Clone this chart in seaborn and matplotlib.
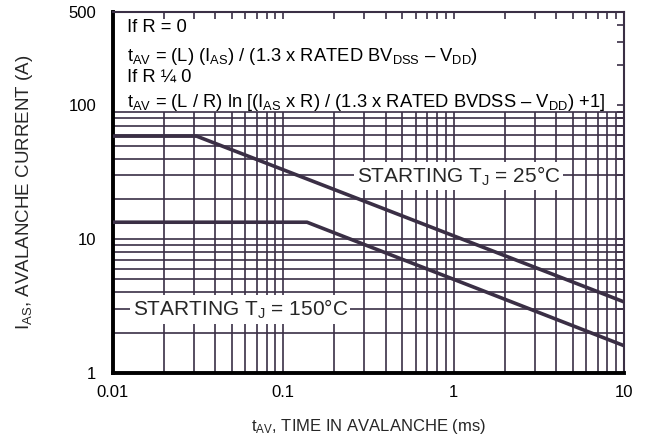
import matplotlib
matplotlib.use('Agg')
import matplotlib.pyplot as plt
import seaborn as sns
import pandas as pd

# curves
t_25 = [0.01, 0.031, 10]
i_25 = [59, 59, 3.4]
t_150 = [0.01, 0.138, 10]
i_150 = [13.4, 13.4, 1.6]

x_major = [0.01, 0.1, 1, 10]
x_major_labels = ['0.01', '0.1', '1', '10']
y_major = [1, 10, 100, 500]
y_major_labels = ['1', '10', '100', '500']

INK = '#3a2f45'

sns.set_style('white')
plt.rcParams['font.family'] = ['Liberation Sans', 'DejaVu Sans']
plt.rcParams['mathtext.fontset'] = 'custom'
plt.rcParams['mathtext.rm'] = 'Liberation Sans'
plt.rcParams['mathtext.it'] = 'Liberation Sans'

df = pd.concat([
    pd.DataFrame({'t': t_25, 'i': i_25, 'curve': '25'}),
    pd.DataFrame({'t': t_150, 'i': i_150, 'curve': '150'}),
])

fig = plt.figure(figsize=(6.52, 4.44), dpi=100)
ax = fig.add_axes([0.173, 0.16, 0.784, 0.813])
ax.set_xscale('log')
ax.set_yscale('log')
ax.set_xlim(0.01, 10)
ax.set_ylim(1, 500)

# grid only in the 1..90 A region (text block sits above it)
gx = [m * 10 ** e for e in (-2, -1, 0) for m in range(1, 10)] + [10]
gy = [m * 10 ** e for e in (0, 1) for m in range(1, 10)]
ax.vlines(gx, 1, max(gy), color=INK, lw=1.2, zorder=1)
ax.hlines(gy, 0.01, 10, color=INK, lw=1.2, zorder=1)

sns.lineplot(data=df, x='t', y='i', units='curve', estimator=None,
             color=INK, lw=2.6, ax=ax, zorder=3, legend=False)

ax.set_xticks(x_major, x_major_labels)
ax.set_yticks(y_major, y_major_labels)
ax.set_xticks([m * 10 ** e for e in (-2, -1, 0) for m in range(2, 10)], minor=True)
ax.set_yticks([m * 10 ** e for e in (0, 1, 2) for m in range(2, 10) if m * 10 ** e < 500], minor=True)
ax.xaxis.set_minor_formatter(matplotlib.ticker.NullFormatter())
ax.yaxis.set_minor_formatter(matplotlib.ticker.NullFormatter())
ax.tick_params(which='both', direction='in', top=True, right=True, color=INK,
               width=1.2, labelsize=12, labelcolor='black', length=5)
ax.tick_params(axis='x', which='major', pad=9)
ax.tick_params(axis='y', which='major', pad=12)

for s in ['top', 'right']:
    ax.spines[s].set_color(INK)
    ax.spines[s].set_linewidth(1.5)
for s in ['left', 'bottom']:
    ax.spines[s].set_color('black')
    ax.spines[s].set_linewidth(2.8)

tkw = dict(fontsize=13.2, va='center', ha='left', color='black', zorder=4)
ax.text(0.0121, 385, 'If R = 0', **tkw)
ax.text(0.0121, 232, r't$_{\mathrm{AV}}$ = (L) (I$_{\mathrm{AS}}$) / (1.3 x RATED BV$_{\mathrm{DSS}}$ – V$_{\mathrm{DD}}$)', **tkw)
ax.text(0.0121, 163, 'If R ¼ 0', **tkw)
ax.text(0.0121, 106, r't$_{\mathrm{AV}}$ = (L / R) ln [(I$_{\mathrm{AS}}$ x R) / (1.3 x RATED BVDSS – V$_{\mathrm{DD}}$) +1]', **tkw)

bkw = dict(facecolor='white', edgecolor='none', pad=2)
ax.text(1.07, 29.7, r'STARTING T$_{\mathrm{J}}$ = 25°C', fontsize=15, ha='center', va='center',
        bbox=bkw, zorder=4)
ax.text(0.0559, 3.0, r'STARTING T$_{\mathrm{J}}$ = 150°C', fontsize=15, ha='center', va='center',
        bbox=bkw, zorder=4)

ax.set_xlabel(r't$_{\mathrm{AV}}$, TIME IN AVALANCHE (ms)', fontsize=12, labelpad=12)
ax.set_ylabel(r'I$_{\mathrm{AS}}$, AVALANCHE CURRENT (A)', fontsize=13.5, labelpad=24)

fig.savefig('out.png', dpi=100)
